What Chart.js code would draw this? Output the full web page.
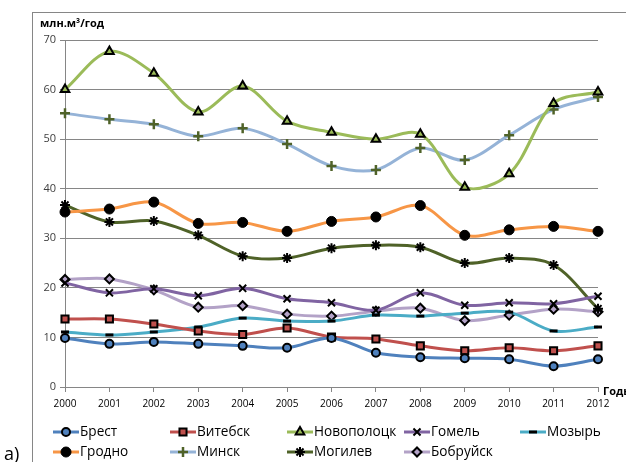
<!DOCTYPE html>
<html>
<head>
<meta charset="utf-8">
<script src="https://cdn.jsdelivr.net/npm/chart.js@4/dist/chart.umd.min.js"></script>
<style>
html,body{margin:0;padding:0;background:#fff;}
canvas{display:block;}
</style>
</head>
<body>
<canvas id="c" width="626" height="462"></canvas>
<script>
const years = ['2000','2001','2002','2003','2004','2005','2006','2007','2008','2009','2010','2011','2012'];
const yTicks = [0,10,20,30,40,50,60,70];
const brest       = [9.9, 8.7, 9.1, 8.7, 8.3, 7.9, 9.9, 6.9, 6.0, 5.8, 5.6, 4.2, 5.6];
const vitebsk     = [13.7, 13.7, 12.7, 11.3, 10.6, 11.9, 10.1, 9.7, 8.3, 7.3, 7.9, 7.3, 8.3];
const novopolotsk = [60, 67.7, 63.3, 55.5, 60.7, 53.6, 51.4, 50, 51, 40.3, 43, 57.2, 59.5];
const gomel       = [21, 19, 19.8, 18.4, 19.9, 17.8, 17, 15.5, 19, 16.5, 17, 16.8, 18.3];
const mozyr       = [11.1, 10.5, 11.1, 12.1, 13.9, 13.3, 13.3, 14.5, 14.3, 14.9, 15.1, 11.3, 12.1];
const grodno      = [35.3, 35.9, 37.3, 33, 33.2, 31.4, 33.4, 34.3, 36.6, 30.6, 31.7, 32.4, 31.4];
const minsk       = [55.2, 54, 53, 50.6, 52.2, 49, 44.6, 43.8, 48.2, 45.8, 50.8, 56, 58.5];
const mogilev     = [36.7, 33.3, 33.5, 30.6, 26.4, 26, 28, 28.6, 28.2, 25, 26, 24.6, 15.8];
const bobruisk    = [21.7, 21.8, 19.6, 16.1, 16.4, 14.7, 14.3, 15.3, 15.9, 13.4, 14.5, 15.7, 15.2];
const seriesNames = ['Брест','Витебск','Новополоцк','Гомель','Мозырь','Гродно','Минск','Могилев','Бобруйск'];
const yTitle = 'млн.м³/год';
const xTitle = 'Годы';
const figLabel = 'а)';

const FONT = "'Open Sans', sans-serif";

function ds(label, data, color, style, bg, bc, bw, r) {
  return {
    label: label, data: data, borderColor: color, borderWidth: 3, tension: 0.33,
    pointStyle: style, pointBackgroundColor: bg, pointBorderColor: bc,
    pointBorderWidth: bw, pointRadius: r, pointHoverRadius: r, fill: false
  };
}

const datasets = [
  ds(seriesNames[0], brest, '#4F81BD', 'circle', '#4F81BD', '#000', 2, 4),
  ds(seriesNames[1], vitebsk, '#C0504D', 'rect', '#C0504D', '#000', 2, 5),
  ds(seriesNames[2], novopolotsk, '#9BBB59', 'triangle', '#9BBB59', '#000', 2, 5),
  ds(seriesNames[3], gomel, '#8064A2', 'crossRot', '#000', '#000', 2, 5),
  ds(seriesNames[4], mozyr, '#4BACC6', 'line', '#000', '#000', 3, 4),
  ds(seriesNames[5], grodno, '#F79646', 'circle', '#000', '#000', 1, 5),
  ds(seriesNames[6], minsk, '#95B3D7', 'cross', '#4F6228', '#4F6228', 2.5, 5),
  ds(seriesNames[7], mogilev, '#4F6228', 'star', '#000', '#000', 2, 5),
  ds(seriesNames[8], bobruisk, '#B3A2C7', 'rectRot', '#B3A2C7', '#000', 2, 4.5)
];

function drawMarker(ctx, o, x, y) {
  ctx.save();
  ctx.strokeStyle = o.borderColor;
  ctx.lineWidth = o.borderWidth;
  ctx.fillStyle = o.backgroundColor;
  if (Chart.helpers && Chart.helpers.drawPoint) {
    Chart.helpers.drawPoint(ctx, o, x, y);
  }
  ctx.restore();
}

const extras = {
  id: 'extras',
  beforeDraw(chart) {
    const ctx = chart.ctx;
    ctx.save();
    ctx.fillStyle = '#fff';
    ctx.fillRect(0, 0, chart.width, chart.height);
    ctx.strokeStyle = '#868686';
    ctx.lineWidth = 1;
    ctx.strokeRect(32.5, 12.5, 800, 800);
    ctx.restore();
  },
  afterDraw(chart) {
    const ctx = chart.ctx;
    ctx.save();
    ctx.fillStyle = '#000';
    ctx.textBaseline = 'middle';
    ctx.textAlign = 'left';
    ctx.font = 'bold 11px ' + FONT;
    ctx.fillText(yTitle, 40, 24);
    ctx.fillText(xTitle, 603, 392);
    ctx.font = '18px ' + FONT;
    ctx.fillText(figLabel, 4, 455);
    // legend
    const cols = [53, 170, 287, 404, 520];
    const rows = [432, 452];
    ctx.font = '13.6px ' + FONT;
    chart.data.datasets.forEach((d, i) => {
      const col = i < 5 ? i : i - 5;
      const row = i < 5 ? 0 : 1;
      const x0 = cols[col], y0 = rows[row];
      ctx.strokeStyle = d.borderColor;
      ctx.lineWidth = 3;
      ctx.beginPath();
      ctx.moveTo(x0, y0);
      ctx.lineTo(x0 + 26, y0);
      ctx.stroke();
      const meta = chart.getDatasetMeta(i);
      const el = meta.data[0];
      if (el && el.options) drawMarker(ctx, el.options, x0 + 13, y0);
      ctx.fillStyle = '#000';
      ctx.fillText(d.label, x0 + 27, y0);
    });
    ctx.restore();
  }
};

new Chart(document.getElementById('c'), {
  type: 'line',
  data: { labels: years, datasets: datasets },
  options: {
    responsive: false,
    animation: false,
    devicePixelRatio: 1,
    layout: { padding: { left: 0, top: 40, right: 28, bottom: 0 } },
    plugins: { legend: { display: false }, tooltip: { enabled: false } },
    scales: {
      x: {
        offset: false,
        grid: { drawOnChartArea: false, drawTicks: true, tickLength: 5, color: '#868686' },
        border: { color: '#868686', width: 1 },
        ticks: { color: '#000', font: { family: FONT, size: 10 }, padding: 6, maxRotation: 0, autoSkip: false },
        afterFit(s) { s.height = 75; }
      },
      y: {
        min: 0, max: 70,
        afterBuildTicks(s) { s.ticks = yTicks.map(v => ({ value: v })); },
        grid: { color: '#868686', lineWidth: 1, drawTicks: true, tickLength: 5 },
        border: { color: '#868686', width: 1 },
        ticks: { color: '#404040', font: { family: FONT, size: 11 }, padding: 4 },
        afterFit(s) { s.width = 65; }
      }
    }
  },
  plugins: [extras]
});
</script>
</body>
</html>
